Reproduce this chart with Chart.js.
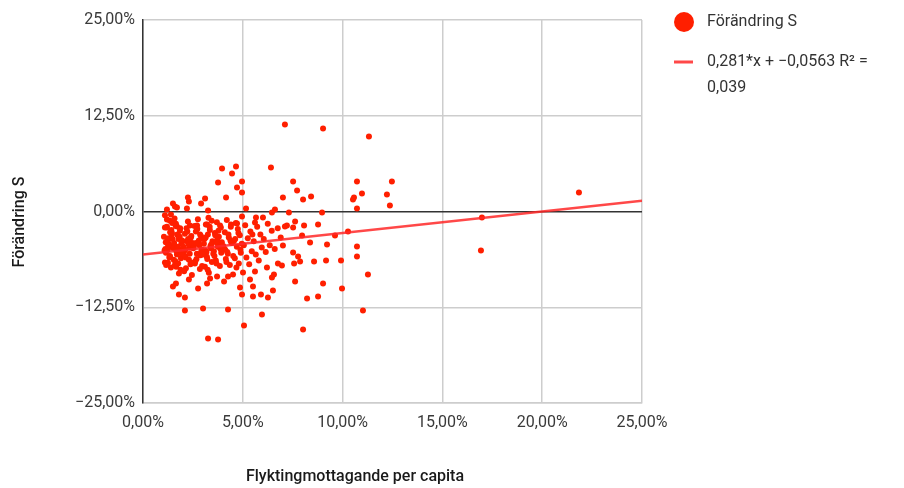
<!DOCTYPE html>
<html>
<head>
<meta charset="utf-8">
<script src="https://cdn.jsdelivr.net/npm/chart.js@4.4.0/dist/chart.umd.min.js"></script>
<style>
  html, body { margin: 0; padding: 0; background: #fff; }
  canvas { display: block; }
</style>
</head>
<body>
<canvas id="scatter" width="904" height="488"></canvas>
<script>
// values in percent (x = flyktingmottagande per capita, y = förändring S)
const spreadX = [7.11, 9.02, 11.32, 3.96, 4.66, 4.46, 6.41, 3.76, 4.96, 4.71, 4.96, 4.16, 7.01, 2.25, 2.30, 3.11, 2.91, 1.50, 1.60, 1.70,
  1.20, 2.20, 3.26, 5.16, 6.61, 6.46, 4.96, 1.40, 5.66, 6.01, 5.61, 1.20, 7.52, 7.72, 8.02, 8.42, 10.72, 12.47, 10.97, 10.57,
  10.52, 12.22, 12.37, 10.72, 7.31, 8.97, 7.62, 8.07, 8.77, 7.21, 7.52, 7.11, 7.97, 9.62, 10.27, 8.37, 9.22, 10.72, 10.72, 7.01,
  7.52, 7.77, 7.87, 7.57, 6.96, 8.57, 9.17, 9.92, 11.27, 7.62, 9.02, 9.97, 8.22, 8.77, 11.02, 8.02, 21.84, 16.98, 16.93];
const spreadY = [11.35, 10.83, 9.79, 5.61, 5.87, 4.96, 5.74, 3.78, 3.92, 3.13, 2.48, 1.83, 1.83, 1.83, 1.31, 1.70, 1.04, 1.04, 0.65, 0.52,
  0.26, 0.39, 0.13, 0.39, 0.26, -0.13, -0.65, -0.39, -0.78, -0.78, -1.44, -1.04, 3.92, 2.74, 1.57, 1.96, 3.92, 3.92, 2.35, 1.83,
  1.57, 2.22, 0.78, 0.39, -0.13, -0.13, -1.31, -1.83, -1.70, -1.83, -2.09, -1.96, -3.13, -3.13, -2.61, -4.05, -4.31, -4.57, -5.87, -4.44,
  -5.35, -5.87, -6.53, -6.79, -7.05, -6.53, -6.39, -6.39, -8.22, -9.14, -9.40, -10.05, -11.35, -11.09, -12.92, -15.40, 2.48, -0.78, -5.09];

const lowX = [2.10, 3.01, 4.26, 5.06, 3.26, 3.76, 5.96, 1.50, 1.80, 2.10, 2.76, 2.30, 1.65, 3.21, 4.06, 4.86, 4.96, 5.51, 5.51, 5.91,
  6.26, 6.51, 6.46, 6.56, 6.21, 6.76, 5.61, 5.36, 5.01, 4.51, 4.26, 3.71, 3.36, 1.10, 1.35, 2.35, 2.71, 3.21, 3.86, 4.41, 4.71, 1.10, 1.70];
const lowY = [-12.92, -12.66, -12.79, -14.88, -16.57, -16.70, -13.44, -9.79, -10.83, -11.22, -10.05, -8.87, -9.40, -9.40, -9.14, -9.92, -10.83, -9.79, -11.09, -10.83,
  -11.22, -10.31, -8.61, -8.22, -7.31, -6.79, -7.83, -8.87, -7.96, -8.22, -8.48, -8.48, -8.74, -6.66, -5.87, -1.83, -1.83, -1.70, -1.83, -1.70, -1.57, -2.09, -1.96];

const clusterX = [1.05, 1.10, 1.15, 1.20, 1.25, 1.30, 1.35, 1.40, 1.45, 1.12, 1.22, 1.32, 1.42, 1.08, 1.28, 1.38,
  1.55, 1.60, 1.65, 1.70, 1.75, 1.80, 1.85, 1.90, 1.95, 1.58, 1.68, 1.78, 1.88, 1.52, 1.62, 1.72, 1.82, 1.92,
  2.05, 2.10, 2.15, 2.20, 2.25, 2.30, 2.35, 2.40, 2.45, 2.08, 2.18, 2.28, 2.38, 2.48, 2.12, 2.32,
  2.55, 2.60, 2.65, 2.70, 2.75, 2.80, 2.85, 2.90, 2.95, 2.58, 2.68, 2.78, 2.88, 2.98,
  3.05, 3.10, 3.15, 3.20, 3.25, 3.30, 3.35, 3.40, 3.45, 3.08, 3.18, 3.28, 3.38, 3.48, 3.12,
  3.55, 3.60, 3.65, 3.70, 3.75, 3.80, 3.85, 3.90, 3.95, 3.58, 3.72, 3.88,
  4.05, 4.10, 4.15, 4.20, 4.25, 4.30, 4.35, 4.40, 4.45, 4.12, 4.38,
  4.55, 4.60, 4.65, 4.70, 4.75, 4.80, 4.85, 4.90, 4.95,
  5.05, 5.12, 5.18, 5.25, 5.32, 5.38, 5.45, 5.48,
  5.55, 5.65, 5.72, 5.80, 5.88, 5.95,
  6.05, 6.15, 6.25, 6.35, 6.45,
  6.60, 6.75, 6.90];
const clusterY = [-3.3, -0.5, -5.4, -2.0, -6.7, -4.2, -1.2, -7.3, -2.8, -4.9, -3.8, -6.0, -2.4, -5.1, -3.5, -4.6,
  -4.4, -7.0, -1.6, -5.6, -3.1, -8.1, -2.5, -6.1, -4.0, -0.9, -5.2, -3.6, -7.6, -4.8, -6.5, -3.0, -5.0, -4.2,
  -5.3, -2.9, -7.4, -3.9, -1.3, -6.3, -4.7, -3.4, -8.3, -5.8, -2.2, -4.3, -6.9, -4.1, -5.0, -3.7,
  -4.5, -6.8, -2.6, -5.5, -1.0, -3.8, -7.5, -3.2, -5.0, -1.9, -6.2, -4.0, -5.7, -3.5,
  -4.2, -7.2, -1.7, -5.9, -3.0, -8.0, -2.4, -4.8, -6.6, -3.6, -5.3, -0.8, -4.5, -3.9, -5.1,
  -5.2, -2.8, -6.4, -1.4, -4.6, -3.3, -7.1, -2.1, -4.0, -5.8, -3.7, -4.9,
  -4.8, -2.7, -6.2, -1.1, -5.5, -3.4, -7.0, -2.0, -4.1, -5.0, -3.8,
  -3.9, -6.1, -1.5, -4.6, -2.3, -6.8, -3.1, -5.4, -4.2,
  -4.4, -1.8, -6.0, -3.5, -6.9, -2.6, -5.2, -3.0,
  -3.9, -5.6, -2.0, -6.4, -3.0, -4.7,
  -3.6, -5.3, -1.6, -4.4, -2.5,
  -4.9, -2.2, -3.4];

const denseX = [1.18, 1.26, 1.34, 1.44, 1.54, 1.64, 1.74, 1.84, 1.94, 1.16, 1.36, 1.56, 1.76, 1.96, 1.24, 1.46, 1.66, 1.86, 1.14, 1.48,
  2.02, 2.14, 2.22, 2.34, 2.42, 2.52, 2.62, 2.72, 2.82, 2.92, 2.06, 2.26, 2.46, 2.66, 2.86, 2.96,
  3.02, 3.14, 3.22, 3.34, 3.42, 3.52, 3.62, 3.68, 3.78, 3.84, 3.92, 3.24, 3.44, 3.66,
  4.02, 4.18, 4.28, 4.42, 4.52, 4.62, 4.78, 4.88, 4.22, 4.68];
const denseY = [-2.1, -4.4, -5.8, -3.0, -6.3, -1.9, -4.6, -3.3, -5.5, -7.0, -2.7, -4.1, -6.8, -3.8, -5.0, -1.5, -7.2, -2.2, -4.0, -3.6,
  -4.6, -6.0, -2.6, -5.5, -3.2, -4.8, -6.5, -2.3, -4.4, -5.2, -7.8, -3.6, -6.7, -4.1, -3.0, -7.1,
  -5.6, -3.4, -6.2, -2.0, -4.3, -5.5, -3.1, -6.8, -2.5, -4.4, -5.4, -7.6, -1.2, -4.0,
  -4.5, -6.6, -3.0, -4.0, -5.8, -3.6, -2.8, -5.0, -5.3, -7.3];

const trendSlope = 0.281;      // y = 0.281*x - 0.0563 (fractions)
const trendIntercept = -5.63;  // percent
const xTicks = [0, 5, 10, 15, 20, 25];
const yTicks = [-25, -12.5, 0, 12.5, 25];

const allX = spreadX.concat(lowX, clusterX, denseX);
const allY = spreadY.concat(lowY, clusterY, denseY);
const points = allX.map((x, i) => ({ x: x, y: allY[i] }));
const trend = [0, 25].map(x => ({ x: x, y: trendIntercept + trendSlope * x }));

const fmt = v => v.toFixed(2).replace('.', ',').replace('-', '\u2212') + '%';
const tickFont = { family: 'Roboto', size: 16 };
const red = '#ff1f00';

// axis titles + legend drawn by hand to sit where the original has them
const decorations = {
    id: 'decorations',
    afterDraw(chart) {
        const c = chart.ctx;
        c.save();
        c.fillStyle = '#1a1a1a';
        c.font = '500 16px Roboto';
        c.textAlign = 'center';
        c.textBaseline = 'middle';
        c.fillText('Flyktingmottagande per capita', 355, 477);
        c.translate(20, 222);
        c.rotate(-Math.PI / 2);
        c.fillText('Förändring S', 0, 0);
        c.restore();

        c.save();
        c.fillStyle = red;
        c.beginPath();
        c.arc(684, 22, 10, 0, Math.PI * 2);
        c.fill();
        c.strokeStyle = 'rgba(255,40,40,0.85)';
        c.lineWidth = 3;
        c.beginPath();
        c.moveTo(674, 62);
        c.lineTo(693, 62);
        c.stroke();
        c.fillStyle = '#333';
        c.font = '16px Roboto';
        c.textAlign = 'left';
        c.textBaseline = 'middle';
        c.fillText('Förändring S', 707, 22);
        c.fillText('0,281*x + \u22120,0563 R\u00b2 =', 707, 62);
        c.fillText('0,039', 707, 88);
        c.restore();
    }
};

new Chart(document.getElementById('scatter').getContext('2d'), {
    type: 'scatter',
    data: {
        datasets: [
            {
                type: 'line',
                data: trend,
                borderColor: 'rgba(255,40,40,0.85)',
                borderWidth: 2.5,
                pointRadius: 0,
                order: 0,
            },
            {
                data: points,
                backgroundColor: red,
                borderWidth: 0,
                pointRadius: 3,
                order: 1,
            },
        ],
    },
    options: {
        responsive: false,
        animation: false,
        layout: { padding: { left: 0, right: 262, top: 20, bottom: 0 } },
        plugins: { legend: { display: false }, tooltip: { enabled: false } },
        scales: {
            x: {
                type: 'linear',
                min: 0,
                max: 25,
                afterBuildTicks: s => { s.ticks = xTicks.map(v => ({ value: v })); },
                ticks: { callback: fmt, color: '#3a3a3a', font: tickFont, padding: 10, maxRotation: 0 },
                grid: { color: '#cdcdcd', lineWidth: 1.5, drawTicks: false },
                border: { color: '#cdcdcd', width: 1.5 },
                afterFit: s => { s.height = 85; },
            },
            y: {
                type: 'linear',
                min: -25,
                max: 25,
                afterBuildTicks: s => { s.ticks = yTicks.map(v => ({ value: v })); },
                ticks: { callback: fmt, color: '#3a3a3a', font: tickFont, padding: 8 },
                grid: {
                    color: ctx => (ctx.tick && ctx.tick.value === 0 ? '#333' : '#cdcdcd'),
                    lineWidth: 1.5,
                    drawTicks: false,
                },
                border: { color: '#333', width: 1.5 },
                afterFit: s => { s.width = 143; },
            },
        },
    },
    plugins: [decorations],
});
</script>
</body>
</html>
